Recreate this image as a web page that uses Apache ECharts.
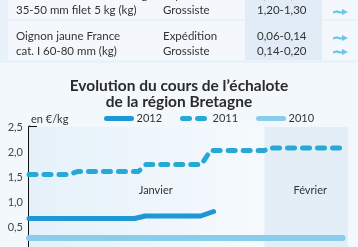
<!DOCTYPE html>
<html>
<head>
<meta charset="utf-8">
<script src="https://cdn.jsdelivr.net/npm/echarts@6/dist/echarts.min.js"></script>
<style>
html,body{margin:0;padding:0;background:#eef5fb;}
#c{width:358px;height:247px;}
</style>
</head>
<body>
<div id="c"></div>
<script>
// ---- data ----
const titleText = "Evolution du cours de l\u2019échalote\nde la région Bretagne";
const unitLabel = "en €/kg";
const seriesNames = ["2012", "2011", "2010"];
const days2012 = [0, 13.9, 15.3, 22.6, 24.3];
const values2012 = [0.67, 0.67, 0.72, 0.72, 0.81];
const days2011 = [0, 5.3, 6.4, 14.4, 15.4, 22.7, 23.9, 31, 31.6, 41.6];
const values2011 = [1.55, 1.55, 1.61, 1.61, 1.75, 1.75, 2.03, 2.03, 2.08, 2.08];
const days2010 = [0, 41.3];
const values2010 = [0.28, 0.28];
const monthNames = ["Janvier", "Février"];
const monthStarts = [0, 31];
const dayMax = 42;
const yTicks = [0, 0.5, 1.0, 1.5, 2.0, 2.5];

const tableCol1 = ["Échalote France cat. I long", "35-50 mm filet 5 kg (kg)", "Oignon jaune France", "cat. I 60-80 mm (kg)"];
const tableCol2 = ["Expédition", "Grossiste", "Expédition", "Grossiste"];
const tableCol3 = ["1,10-1,20", "1,20-1,30", "0,06-0,14", "0,14-0,20"];

function pairs(xs, ys){ return xs.map((x,i)=>[x, ys[i]]); }

const chart = echarts.init(document.getElementById('c'), null, {renderer:'canvas'});
const FONT = 'Lato, "Open Sans", sans-serif';
const textY = [-5, 10, 36, 51];
const arrowY = [-3, 12, 38, 52];

const graphics = [
  {type:'rect', shape:{x:0,y:0,width:358,height:247}, style:{fill:'#eaf2f9'}, z:-10, silent:true},
  {type:'rect', shape:{x:8,y:-10,width:350,height:29}, style:{fill:'#f4f8fc'}, z:-9},
  {type:'rect', shape:{x:8,y:21,width:350,height:39}, style:{fill:'#f4f8fc'}, z:-9},
  {type:'rect', shape:{x:245,y:-10,width:77,height:70}, style:{fill:'#e1ecf6'}, z:-8},
  {type:'rect', shape:{x:0,y:63,width:358,height:184}, style:{fill:'#f3f8fc'}, z:-9}
];
for (let i=0;i<4;i++){
  graphics.push({type:'text', x:16, y:textY[i], style:{text:tableCol1[i], fill:'#333', font:'11.5px '+FONT, textVerticalAlign:'middle'}});
  graphics.push({type:'text', x:163, y:textY[i], style:{text:tableCol2[i], fill:'#333', font:'11.5px '+FONT, textVerticalAlign:'middle'}});
  graphics.push({type:'text', x:257, y:textY[i], style:{text:tableCol3[i], fill:'#333', font:'11.5px '+FONT, textVerticalAlign:'middle'}});
  const ay = arrowY[i];
  graphics.push({type:'polyline', shape:{points:[[333,ay+0.5],[337,ay-0.5],[340,ay+0.5],[344,ay]]}, style:{stroke:'#6cc4ea', lineWidth:2.2, fill:null}});
  graphics.push({type:'polygon', shape:{points:[[342,ay-3],[348,ay],[342,ay+3]]}, style:{fill:'#6cc4ea'}});
}

const option = {
  animation:false,
  backgroundColor:'transparent',
  textStyle:{fontFamily:FONT},
  graphic: graphics,
  title:{
    text:titleText, left:'center', top:73,
    textStyle:{fontFamily:FONT, fontWeight:'bold', fontSize:15.5, color:'#2b2b2b', lineHeight:16}
  },
  legend:{
    data:seriesNames, left:99, top:108, itemWidth:25, itemHeight:12, itemGap:18,
    lineStyle:{width:5},
    textStyle:{fontSize:11, color:'#333', fontFamily:FONT}
  },
  grid:{left:29, right:10, top:127, height:125, containLabel:false, outerBoundsMode:'none'},
  xAxis:{type:'value', min:0, max:dayMax, show:false, splitLine:{show:false}},
  yAxis:{
    type:'value', min:yTicks[0], max:yTicks[yTicks.length-1], interval:0.5,
    name:unitLabel, nameLocation:'end', nameGap:2,
    nameTextStyle:{align:'left', verticalAlign:'bottom', color:'#333', fontSize:11, padding:[0,0,0,2], fontFamily:FONT},
    axisLine:{show:true, lineStyle:{color:'#111', width:3}},
    axisTick:{show:true, inside:true, length:8, lineStyle:{color:'#111', width:2}},
    axisLabel:{color:'#444', fontSize:11, margin:6, fontFamily:FONT, formatter:v=>v.toFixed(1).replace('.',',')},
    splitLine:{show:false}
  },
  series:[
    {name:seriesNames[0], type:'line', data:pairs(days2012, values2012), symbol:'none', z:5,
     lineStyle:{color:'#1d97d5', width:5, cap:'round', join:'round'}, itemStyle:{color:'#1d97d5', opacity:0},
     markArea:{silent:true, data:[
       [{xAxis:monthStarts[0], name:monthNames[0], itemStyle:{color:{type:'linear',x:0,y:0,x2:1,y2:0,colorStops:[{offset:0,color:'#e5f1fa'},{offset:1,color:'#f6fafd'}]}}, label:{offset:[9,1]}},{xAxis:monthStarts[1]}],
       [{xAxis:monthStarts[1], name:monthNames[1], itemStyle:{color:'#e4eef7'}, label:{offset:[4,1]}},{xAxis:dayMax}]
     ], label:{show:true, position:'inside', color:'#333', fontSize:11, fontFamily:FONT}}
    },
    {name:seriesNames[1], type:'line', data:pairs(days2011, values2011), symbol:'none', z:5,
     lineStyle:{color:'#26a8d9', width:5, type:[7,8], cap:'round', join:'round'}, itemStyle:{color:'#26a8d9', opacity:0}},
    {name:seriesNames[2], type:'line', data:pairs(days2010, values2010), symbol:'none', z:4,
     lineStyle:{color:'#88cdec', width:6, cap:'round'}, itemStyle:{color:'#88cdec', opacity:0}}
  ]
};
chart.setOption(option);
</script>
</body>
</html>
